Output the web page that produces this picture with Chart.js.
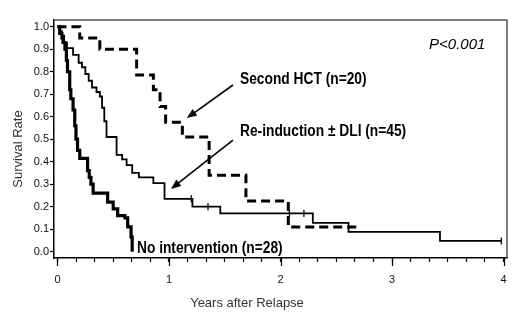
<!DOCTYPE html>
<html>
<head>
<meta charset="utf-8">
<script src="https://cdn.jsdelivr.net/npm/chart.js@4/dist/chart.umd.min.js"></script>
<style>
  html, body { margin: 0; padding: 0; background: #fff; }
</style>
</head>
<body>
<canvas id="km" width="520" height="321"></canvas>
<script>
// Kaplan-Meier curves (years after relapse -> survival rate)
const hctYears = [0, 0.20, 0.38, 0.71, 0.86, 0.92, 0.97, 1.12, 1.36, 1.69, 2.07, 2.72];
const hctSurv  = [1.0, 0.95, 0.90, 0.785, 0.72, 0.645, 0.575, 0.51, 0.34, 0.225, 0.11, 0.11];

const reYears = [0, 0.02, 0.04, 0.06, 0.085, 0.14, 0.19, 0.22, 0.25, 0.28, 0.31, 0.35, 0.38, 0.40, 0.42, 0.44,
                 0.53, 0.58, 0.62, 0.67, 0.73, 0.86, 0.96, 1.21, 1.46, 2.29, 2.61, 3.43, 3.98];
const reSurv  = [1.0, 0.98, 0.96, 0.93, 0.905, 0.875, 0.84, 0.82, 0.79, 0.76, 0.73, 0.71, 0.69, 0.64, 0.58, 0.51,
                 0.43, 0.41, 0.385, 0.35, 0.33, 0.305, 0.235, 0.20, 0.17, 0.128, 0.088, 0.048, 0.048];

const noYears = [0, 0.02, 0.04, 0.05, 0.067, 0.08, 0.09, 0.11, 0.12, 0.14, 0.155, 0.166, 0.18, 0.20,
                 0.27, 0.285, 0.30, 0.32, 0.45, 0.50, 0.54, 0.605, 0.63, 0.66, 0.67];
const noSurv  = [1.0, 0.97, 0.95, 0.93, 0.90, 0.85, 0.80, 0.72, 0.68, 0.63, 0.56, 0.50, 0.45, 0.415,
                 0.36, 0.33, 0.30, 0.26, 0.22, 0.19, 0.16, 0.15, 0.11, 0.065, 0.0];

// censoring marks on the re-induction curve
const censorYears = [1.20, 1.35, 2.08, 2.21, 3.98];
const censorSurv  = [0.235, 0.20, 0.17, 0.17, 0.048];

const xMajor = [0, 1, 2, 3, 4];
const yTicks = [0, 0.1, 0.2, 0.3, 0.4, 0.5, 0.6, 0.7, 0.8, 0.9, 1.0];

// text labels and arrows (positions in data units)
const notes = [
  { text: 'Second HCT (n=20)', t: 1.637, s: 0.763 },
  { text: 'Re-induction \u00b1 DLI (n=45)', t: 1.637, s: 0.536 },
  { text: 'No intervention (n=28)', t: 0.713, s: 0.016 }
];
const arrows = [
  { from: [1.574, 0.741], to: [1.16, 0.594] },
  { from: [1.574, 0.496], to: [1.018, 0.279] }
];

const pts = (xs, ys) => xs.map((v, i) => ({ x: v, y: ys[i] }));

const decor = {
  id: 'decor',
  afterDraw(chart) {
    const { ctx, chartArea: a, scales: { x, y } } = chart;
    ctx.save();
    // frame top + right
    ctx.strokeStyle = '#555';
    ctx.lineWidth = 1.5;
    ctx.beginPath();
    ctx.moveTo(a.left, a.top);
    ctx.lineTo(a.right, a.top);
    ctx.lineTo(a.right, a.bottom);
    ctx.stroke();

    // longer ticks on whole years
    ctx.strokeStyle = '#000';
    ctx.lineWidth = 1.2;
    xMajor.forEach(v => {
      const px = Math.round(x.getPixelForValue(v)) + 0.5;
      ctx.beginPath();
      ctx.moveTo(px, a.bottom);
      ctx.lineTo(px, a.bottom + 8);
      ctx.stroke();
    });

    // arrows
    ctx.fillStyle = '#000';
    ctx.lineWidth = 1.6;
    arrows.forEach(ar => {
      const x0 = x.getPixelForValue(ar.from[0]), y0 = y.getPixelForValue(ar.from[1]);
      const x1 = x.getPixelForValue(ar.to[0]), y1 = y.getPixelForValue(ar.to[1]);
      const ang = Math.atan2(y1 - y0, x1 - x0);
      ctx.beginPath();
      ctx.moveTo(x0, y0);
      ctx.lineTo(x1 - 6 * Math.cos(ang), y1 - 6 * Math.sin(ang));
      ctx.stroke();
      ctx.beginPath();
      ctx.moveTo(x1, y1);
      ctx.lineTo(x1 - 10 * Math.cos(ang) + 4 * Math.sin(ang), y1 - 10 * Math.sin(ang) - 4 * Math.cos(ang));
      ctx.lineTo(x1 - 10 * Math.cos(ang) - 4 * Math.sin(ang), y1 - 10 * Math.sin(ang) + 4 * Math.cos(ang));
      ctx.closePath();
      ctx.fill();
    });

    // curve labels, condensed like the original's narrow bold face
    ctx.font = 'bold 16px "Liberation Sans", Arial, sans-serif';
    ctx.textBaseline = 'middle';
    ctx.textAlign = 'left';
    notes.forEach(n => {
      ctx.save();
      ctx.translate(x.getPixelForValue(n.t), y.getPixelForValue(n.s));
      ctx.scale(0.86, 1);
      ctx.fillText(n.text, 0, 0);
      ctx.restore();
    });

    // p value
    ctx.font = 'italic 15px "Liberation Sans", Arial, sans-serif';
    ctx.fillText('P<0.001', x.getPixelForValue(3.332), y.getPixelForValue(0.919));

    // axis titles
    ctx.fillStyle = '#333';
    ctx.font = '13px "Liberation Sans", Arial, sans-serif';
    ctx.textAlign = 'center';
    ctx.fillText('Years after Relapse', 247, 303);
    ctx.translate(18, 149);
    ctx.rotate(-Math.PI / 2);
    ctx.fillText('Survival Rate', 0, 0);
    ctx.restore();
  }
};

new Chart(document.getElementById('km'), {
  type: 'scatter',
  data: {
    datasets: [
      { label: 'Second HCT', data: pts(hctYears, hctSurv), showLine: true, stepped: true,
        borderColor: '#000', borderWidth: 3, borderDash: [9, 5], pointRadius: 0 },
      { label: 'Re-induction', data: pts(reYears, reSurv), showLine: true, stepped: true,
        borderColor: '#000', borderWidth: 1.8, pointRadius: 0 },
      { label: 'No intervention', data: pts(noYears, noSurv), showLine: true, stepped: true,
        borderColor: '#000', borderWidth: 3.2, pointRadius: 0 },
      { label: 'censored', data: pts(censorYears, censorSurv), showLine: false,
        pointStyle: 'line', rotation: 90, pointRadius: 3.5, borderColor: '#000', borderWidth: 1.3 }
    ]
  },
  options: {
    responsive: false,
    animation: false,
    events: [],
    layout: { padding: { top: 20, right: 13, left: 0, bottom: 0 } },
    plugins: { legend: { display: false }, tooltip: { enabled: false } },
    scales: {
      x: {
        type: 'linear', min: -0.031, max: 4.031,
        afterFit: s => { s.height = 63; },
        afterBuildTicks: s => {
          const t = [];
          for (let k = 0; k <= 24; k++) t.push({ value: k / 6 });
          s.ticks = t;
        },
        grid: { drawOnChartArea: false, tickLength: 4, tickColor: '#000', tickWidth: 1.2 },
        border: { color: '#000', width: 1.5 },
        ticks: {
          padding: 11, color: '#111', maxRotation: 0, autoSkip: false,
          font: { family: '"Liberation Sans", Arial, sans-serif', size: 11 },
          callback: v => xMajor.includes(v) ? String(v) : ''
        }
      },
      y: {
        type: 'linear', min: -0.028, max: 1.03,
        afterFit: s => { s.width = 54; },
        afterBuildTicks: s => { s.ticks = yTicks.map(v => ({ value: v })); },
        grid: { drawOnChartArea: false, tickLength: 4, tickColor: '#000', tickWidth: 1.2 },
        border: { color: '#000', width: 1.5 },
        ticks: {
          padding: 1, color: '#111', autoSkip: false,
          font: { family: '"Liberation Sans", Arial, sans-serif', size: 11 },
          callback: v => v.toFixed(1)
        }
      }
    }
  },
  plugins: [decor]
});
</script>
</body>
</html>
